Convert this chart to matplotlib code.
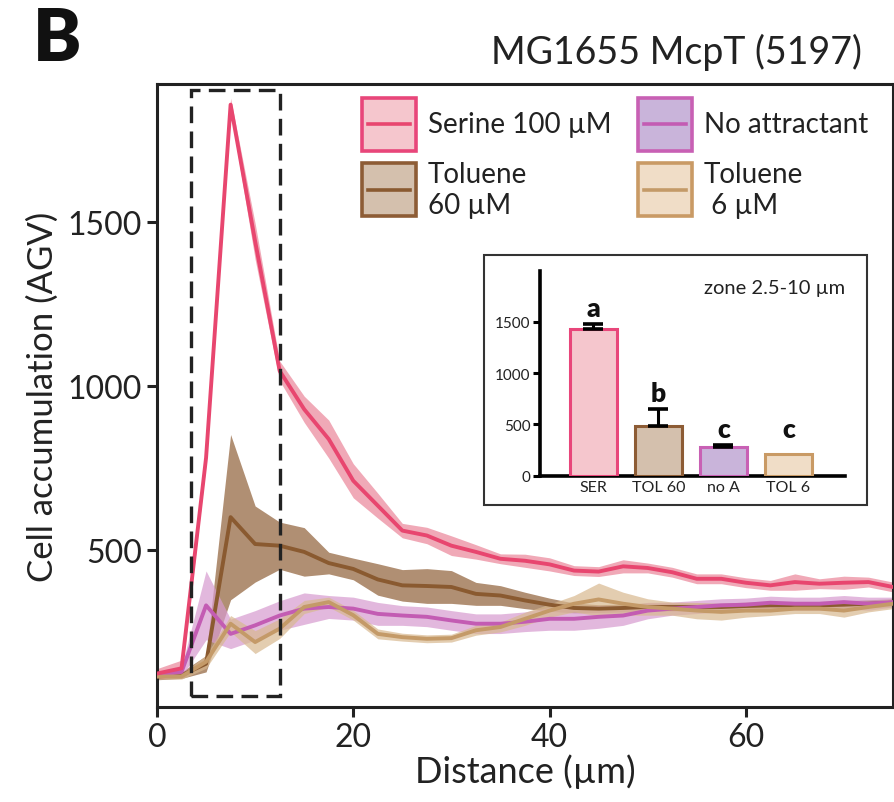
import matplotlib
matplotlib.use("Agg")
import matplotlib.pyplot as plt
import numpy as np
from matplotlib.patches import Rectangle

plt.rcParams['font.family'] = ['Lato', 'DejaVu Sans']

# ---------------- data ----------------
distance = [i * 2.5 for i in range(31)]

serine_mean = [122, 138, 780, 1857, 1440, 1045, 928, 837, 710, 634, 558, 543, 512, 493, 472, 466,
               455, 436, 433, 449, 444, 431, 411, 411, 399, 391, 401, 396, 399, 401, 386]
serine_sem = [15, 25, 20, 20, 55, 30, 40, 58, 52, 38, 22, 25, 30, 22, 15, 20,
              20, 15, 15, 20, 15, 15, 15, 15, 15, 15, 25, 15, 20, 15, 15]

tol60_mean = [113, 117, 152, 599, 517, 512, 493, 459, 441, 409, 391, 389, 386, 365, 360, 345,
              332, 322, 320, 322, 325, 325, 325, 325, 328, 330, 330, 330, 332, 335, 338]
tol60_sem = [10, 10, 25, 252, 116, 72, 74, 33, 33, 48, 48, 53, 50, 35, 30, 25,
             20, 15, 12, 12, 12, 12, 12, 12, 12, 12, 12, 12, 12, 12, 12]

noattr_mean = [117, 127, 330, 243, 269, 299, 320, 325, 320, 304, 299, 295, 284, 274, 274, 280,
               289, 289, 295, 299, 314, 320, 325, 330, 332, 338, 335, 335, 340, 335, 340]
noattr_sem = [10, 15, 105, 45, 45, 45, 48, 35, 35, 35, 30, 30, 30, 30, 30, 30,
              35, 35, 35, 30, 25, 20, 20, 20, 20, 20, 20, 20, 20, 20, 15]

tol6_mean = [113, 113, 158, 274, 218, 259, 325, 340, 300, 243, 233, 228, 230, 254, 264, 289,
             314, 335, 348, 335, 325, 320, 314, 310, 314, 314, 320, 320, 314, 325, 335]
tol6_sem = [8, 8, 20, 25, 35, 30, 20, 15, 15, 15, 12, 12, 12, 15, 15, 20,
            20, 25, 50, 35, 25, 20, 25, 25, 20, 15, 15, 15, 20, 15, 15]

inset_categories = ['SER', 'TOL 60', 'no A', 'TOL 6']
inset_values = [1434, 485, 276, 210]
inset_errors = [48, 162, 22, 0]
inset_letters = ['a', 'b', 'c', 'c']

legend_labels = ['Serine 100 µM', 'Toluene\n60 µM', 'No attractant', 'Toluene\n 6 µM']

# ---------------- styles ----------------
line_colors = ['#E8466F', '#8A5A30', '#C35CB3', '#C49A68']
band_colors = ['#EC8C9F', '#A37B5A', '#D79BCF', '#D8B88F']
band_alpha = [0.75, 0.85, 0.7, 0.7]
patch_face = ['#F5C6CD', '#D4C0AD', '#C9B4DA', '#F0DDC7']
patch_edge = ['#E8467A', '#8D5C35', '#C860B4', '#C99A65']
txt = '#222222'

fig = plt.figure(figsize=(8.94, 8.03), dpi=100)
ax = fig.add_axes([157 / 894, 1 - 708 / 803, 736 / 894, 623 / 803])

series = [(serine_mean, serine_sem), (tol60_mean, tol60_sem),
          (noattr_mean, noattr_sem), (tol6_mean, tol6_sem)]
order = [1, 2, 3, 0]
x = np.array(distance)
for k in order:
    m, s = np.array(series[k][0], float), np.array(series[k][1], float)
    ax.fill_between(x, m - s, m + s, color=band_colors[k], alpha=band_alpha[k], lw=0, zorder=2)
for k in order:
    m = np.array(series[k][0], float)
    ax.plot(x, m, color=line_colors[k], lw=2.8, zorder=3)

ax.set_xlim(0, 75)
ax.set_ylim(20, 1920)
ax.set_xticks([0, 20, 40, 60])
ax.set_yticks([500, 1000, 1500])
ax.tick_params(axis='both', direction='out', length=7, width=2.2, labelsize=23, color=txt,
               labelcolor=txt, pad=4)
for sp in ax.spines.values():
    sp.set_linewidth(2.2)
    sp.set_color(txt)
ax.set_xlabel('Distance (µm)', fontsize=26, color=txt, labelpad=1)
ax.set_ylabel('Cell accumulation (AGV)', fontsize=25, color=txt, labelpad=6)

# dashed zone box
ax.add_patch(Rectangle((3.5, 55), 9.0, 1848, fill=False, ls=(0, (5, 2.5)), lw=2.4,
                       ec=txt, zorder=4))

# custom legend
legend_pos = [(0.2785, 0.893), (0.2785, 0.788), (0.6535, 0.893), (0.6535, 0.788)]
for k, (lx, ly) in enumerate(legend_pos):
    w, h = 0.0735, 0.085
    ax.add_patch(Rectangle((lx, ly), w, h, transform=ax.transAxes, fc=patch_face[k],
                           ec=patch_edge[k], lw=2.6, clip_on=False, zorder=5))
    ax.plot([lx + 0.008, lx + w - 0.008], [ly + h / 2, ly + h / 2], transform=ax.transAxes,
            color=line_colors[k], lw=2.6, clip_on=False, zorder=6)
    ax.text(lx + w + 0.016, ly + h / 2, legend_labels[k], transform=ax.transAxes,
            fontsize=20, va='center', ha='left', color=txt, linespacing=1.2, zorder=6)

# inset frame
fig.patches.append(Rectangle((484 / 894, 1 - 506 / 803), 383 / 894, 250 / 803,
                             transform=fig.transFigure, fc='white', ec='#333333', lw=1.5,
                             zorder=5))
iax = fig.add_axes([540 / 894, 1 - 476.7 / 803, 305 / 894, 205 / 803], zorder=6)
iax.patch.set_alpha(0)
pos = np.arange(len(inset_categories))
iax.bar(pos, inset_values, width=0.72, color=patch_face, edgecolor=patch_edge, linewidth=2.2,
        zorder=3)
for p, v, e in zip(pos, inset_values, inset_errors):
    if e > 0:
        iax.errorbar(p, v, yerr=[[0], [e]], fmt='none', ecolor='black', elinewidth=2.2,
                     capsize=7, capthick=2.6, zorder=4)
letter_base = [inset_values[i] + inset_errors[i] for i in range(4)]
letter_base[3] = letter_base[2]
for p, yb, t in zip(pos, letter_base, inset_letters):
    iax.annotate(t, (p, yb), xytext=(0, 3), textcoords='offset points', ha='center',
                 va='bottom', fontsize=19, fontweight='heavy', color='#111111')
iax.set_xlim(-0.82, 3.87)
iax.set_ylim(0, 2000)
iax.set_yticks([0, 500, 1000, 1500])
iax.set_xticks(pos)
iax.set_xticklabels(inset_categories)
iax.spines['top'].set_visible(False)
iax.spines['right'].set_visible(False)
for sp in ['left', 'bottom']:
    iax.spines[sp].set_linewidth(2.6)
    iax.spines[sp].set_color('black')
iax.tick_params(axis='y', direction='out', length=5, width=2.2, labelsize=11, pad=2,
                labelcolor=txt)
iax.tick_params(axis='x', length=0, labelsize=11.5, pad=3, labelcolor=txt)
iax.text(1.0, 0.92, 'zone 2.5-10 µm', transform=iax.transAxes, ha='right', va='center',
         fontsize=14.5, color=txt)

# titles
fig.text(862 / 894, 1 - 52 / 803, 'MG1655 McpT (5197)', ha='right', va='center', fontsize=27,
         color=txt)
fig.text(33 / 894, 1 - 40 / 803, 'B', ha='left', va='center', fontsize=52, fontweight='heavy',
         color='#111111')

fig.savefig('out.png', dpi=100)
